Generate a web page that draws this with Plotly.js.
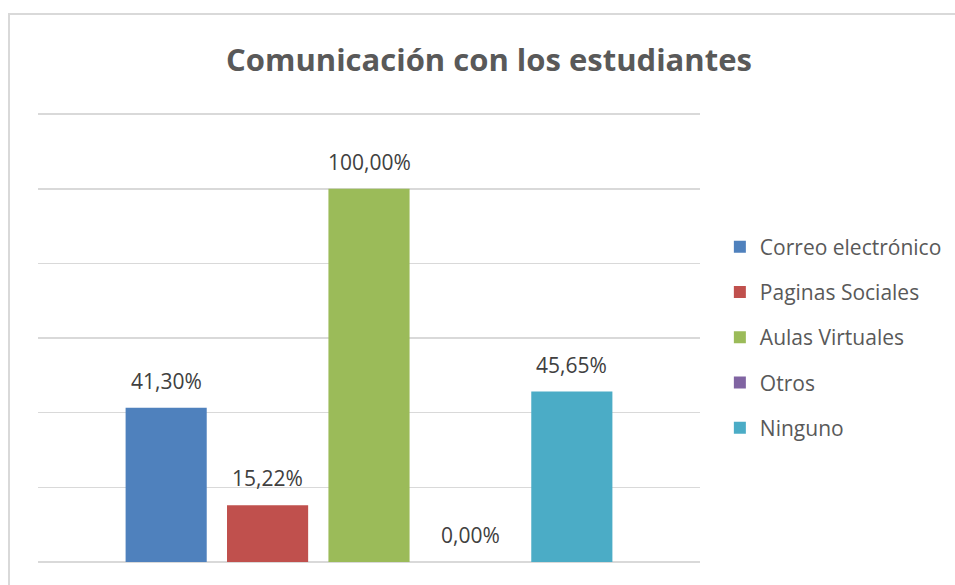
<!DOCTYPE html>
<html>
<head>
<meta charset="utf-8">
<script src="https://cdn.plot.ly/plotly-3.0.1.min.js"></script>
<style>
  html, body { margin: 0; padding: 0; background: #ffffff; }
  #chart { width: 955px; height: 585px; }
  #frame { position: absolute; left: 8px; top: 13px; width: 980px; height: 620px;
           border: 2px solid #d9d9d9; pointer-events: none; box-sizing: border-box; }
</style>
</head>
<body>
<div id="chart"></div>
<div id="frame"></div>
<script>
const seriesNames = ["Correo electrónico", "Paginas Sociales", "Aulas Virtuales", "Otros", "Ninguno"];
const seriesValues = [41.30, 15.22, 100.00, 0.00, 45.65];
const seriesColors = ["#4f81bd", "#c0504d", "#9bbb59", "#8064a2", "#4bacc6"];
const category = [""];

const bargap = 0.234;
const bargroupgap = 0.2;

const traces = seriesNames.map((name, i) => ({
  type: "bar",
  name: name,
  x: category,
  y: [seriesValues[i]],
  marker: { color: seriesColors[i] },
  legendgroup: "g" + i,
  hoverinfo: "name+y"
}));

const slot = (1 - bargap) / seriesNames.length;
const annotations = seriesValues.map((v, i) => ({
  x: (i - (seriesNames.length - 1) / 2) * slot,
  y: v,
  xref: "x",
  yref: "y",
  text: v.toFixed(2).replace(".", ",") + "%",
  showarrow: false,
  xanchor: "center",
  yanchor: "bottom",
  yshift: 11,
  font: { family: "Open Sans, sans-serif", size: 21, color: "#404040" }
}));

const layout = {
  width: 955,
  height: 585,
  margin: { l: 38, r: 255, t: 113, b: 23, autoexpand: false },
  paper_bgcolor: "#ffffff",
  plot_bgcolor: "#ffffff",
  title: {
    text: "<b>Comunicación con los estudiantes</b>",
    font: { family: "Open Sans, sans-serif", size: 31, color: "#595959" },
    x: 0.512,
    xanchor: "center",
    y: 0.897,
    yanchor: "middle"
  },
  barmode: "group",
  bargap: bargap,
  bargroupgap: bargroupgap,
  xaxis: {
    type: "category",
    showticklabels: false,
    showgrid: false,
    zeroline: false,
    showline: false,
    ticks: ""
  },
  yaxis: {
    range: [0, 120.3],
    tick0: 0,
    dtick: 20,
    showticklabels: false,
    showgrid: true,
    gridcolor: "#d9d9d9",
    gridwidth: 1.5,
    zeroline: true,
    zerolinecolor: "#d9d9d9",
    zerolinewidth: 2,
    showline: false,
    ticks: "",
    fixedrange: true
  },
  showlegend: true,
  legend: {
    x: 1.03,
    xanchor: "left",
    y: 0.5,
    yanchor: "middle",
    traceorder: "grouped",
    tracegroupgap: 15,
    font: { family: "Open Sans, sans-serif", size: 21, color: "#595959" },
    bgcolor: "rgba(0,0,0,0)"
  },
  annotations: annotations
};

Plotly.newPlot("chart", traces, layout, { displayModeBar: false, staticPlot: true });
</script>
</body>
</html>
